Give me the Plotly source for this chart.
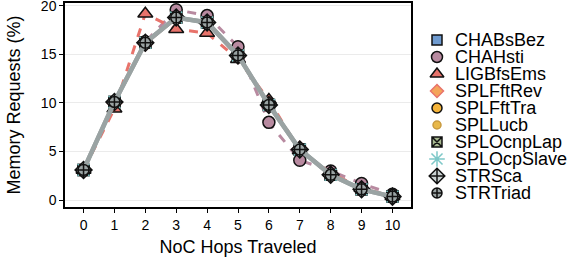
import plotly.graph_objects as go

hops = [0, 1, 2, 3, 4, 5, 6, 7, 8, 9, 10]
x_tick_labels = ["0", "1", "2", "3", "4", "5", "6", "7", "8", "9", "10"]
y_tick_vals = [0, 5, 10, 15, 20]

series_names = ["CHABsBez", "CHAHsti", "LIGBfsEms", "SPLFftRev", "SPLFftTra",
                "SPLLucb", "SPLOcnpLap", "SPLOcpSlave", "STRSca", "STRTriad"]

chabsbez = [3.1, 10.1, 16.2, 18.8, 18.3, 14.9, 9.8, 5.2, 2.6, 1.1, 0.35]
chahsti = [3.1, 10.1, 16.3, 19.6, 19.0, 15.8, 8.0, 4.1, 3.0, 1.7, 0.6]
ligbfsems = [3.1, 9.4, 19.2, 17.6, 17.2, 14.5, 10.3, 5.1, 2.8, 1.2, 0.4]
splfftrev = [3.1, 10.0, 16.1, 18.7, 18.3, 14.8, 9.8, 5.3, 2.6, 1.1, 0.35]
splffttra = [3.1, 10.1, 16.2, 18.8, 18.3, 14.9, 9.8, 5.2, 2.6, 1.1, 0.35]
spllucb = [3.1, 10.1, 16.2, 18.7, 18.3, 14.9, 9.7, 5.2, 2.6, 1.1, 0.35]
splocnplap = [3.1, 10.1, 16.2, 18.8, 18.3, 14.9, 9.8, 5.2, 2.6, 1.1, 0.35]
splocpslave = [3.1, 10.1, 16.2, 18.8, 18.3, 14.9, 9.8, 5.2, 2.6, 1.1, 0.35]
strsca = [3.1, 10.1, 16.2, 18.8, 18.3, 14.9, 9.8, 5.2, 2.6, 1.1, 0.35]
strtriad = [3.1, 10.1, 16.2, 18.8, 18.3, 14.9, 9.8, 5.2, 2.6, 1.1, 0.35]

series_values = [chabsbez, chahsti, ligbfsems, splfftrev, splffttra,
                 spllucb, splocnplap, splocpslave, strsca, strtriad]

styles = [
    dict(color="#6f9bd0", symbol="square", size=11, lc="#6f9bd0", dash="solid", lw=2.5, outline="#111111"),
    dict(color="#b88aa0", symbol="circle", size=12, lc="#b88aa0", dash="dash", lw=3, outline="#111111"),
    dict(color="#e8736b", symbol="triangle-up", size=13, lc="#e8736b", dash="dash", lw=3, outline="#111111"),
    dict(color="#f4a45a", symbol="diamond", size=11, lc="#f0a080", dash="solid", lw=2.5, outline="#e8736b"),
    dict(color="#f5b43a", symbol="circle", size=11, lc="#f5b43a", dash="solid", lw=2.5, outline="#111111"),
    dict(color="#e8b84a", symbol="circle", size=8, lc="#e8c070", dash="solid", lw=2.5, outline="#c89a40"),
    dict(color="#a8b890", symbol="square-x", size=11, lc="#a8b890", dash="solid", lw=2.5, outline="#111111"),
    dict(color="#7ec8c8", symbol="asterisk-open", size=14, lc="#7ec8c8", dash="solid", lw=2.5, outline="#7ec8c8"),
    dict(color="#c8d0d0", symbol="diamond-cross", size=13, lc="#9aa3a3", dash="solid", lw=4.5, outline="#111111"),
    dict(color="#9aa3a3", symbol="circle-cross", size=11, lc="#9aa3a3", dash="solid", lw=4.5, outline="#111111"),
]

FONT = "Liberation Sans, Arial, Helvetica, sans-serif"
W, H = 576, 259
ml, mr, mt, mb = 65, 0, 3, 52
pw = W - ml - mr
ph = H - mt - mb

fig = go.Figure()

for name, vals, st in zip(series_names, series_values, styles):
    fig.add_trace(go.Scatter(
        x=hops, y=vals, name=name, mode="lines+markers", showlegend=False,
        line=dict(color=st["lc"], width=st["lw"], dash=st["dash"]),
        marker=dict(symbol=st["symbol"], size=st["size"], color=st["color"],
                    line=dict(color=st["outline"], width=1.5)),
        xaxis="x", yaxis="y", hoverinfo="skip"))

# legend keys drawn on an auxiliary axis pair; labels are the y-axis tick labels
for name, st in zip(series_names, styles):
    fig.add_trace(go.Scatter(
        x=[0], y=[name], mode="markers", showlegend=False,
        marker=dict(symbol=st["symbol"], size=max(st["size"] - 1, 8), color=st["color"],
                    line=dict(color=st["outline"], width=1.5)),
        xaxis="x2", yaxis="y2", hoverinfo="skip"))

x_right = (411 - ml) / pw
fig.update_layout(
    width=W, height=H,
    margin=dict(l=ml, r=mr, t=mt, b=mb, autoexpand=False),
    paper_bgcolor="white", plot_bgcolor="white",
    font=dict(family=FONT, color="black"),
    showlegend=False,
    xaxis=dict(domain=[0, x_right], range=[-0.6, 10.6], tickvals=hops, ticktext=x_tick_labels,
               showgrid=False, zeroline=False, showline=True, linecolor="black", linewidth=1.5,
               mirror=True, ticks="outside", ticklen=4, tickcolor="black", automargin=False,
               tickfont=dict(size=14, family=FONT), ticklabeloverflow="allow",
               title=dict(text="NoC Hops Traveled", font=dict(size=18, family=FONT), standoff=9)),
    yaxis=dict(domain=[0, 1], range=[-0.72, 20.3], tickvals=y_tick_vals,
               showgrid=True, gridcolor="#ebebeb", gridwidth=1, zeroline=False,
               showline=True, linecolor="black", linewidth=1.5, mirror=True,
               ticks="outside", ticklen=4, tickcolor="black", automargin=False,
               tickfont=dict(size=14, family=FONT), ticklabeloverflow="allow",
               title=dict(text="Memory Requests (%)", font=dict(size=18, family=FONT), standoff=16)),
    xaxis2=dict(domain=[(428 - ml) / pw, (446 - ml) / pw], range=[-1, 1], anchor="y2",
                visible=False, fixedrange=True),
    yaxis2=dict(domain=[(207 - 201.5) / ph, (207 - 31.5) / ph], anchor="x2", side="right",
                type="category", categoryorder="array", categoryarray=series_names,
                tickmode="array", tickvals=series_names, ticktext=series_names,
                range=[9.5, -0.5], showgrid=False, zeroline=False, showline=False,
                automargin=False, ticklabeloverflow="allow",
                ticks="", tickfont=dict(size=18, family=FONT), ticklabelstandoff=8),
)

fig.write_html("out.html", config={"displayModeBar": False},
               post_script="document.body.style.margin='0px';")
